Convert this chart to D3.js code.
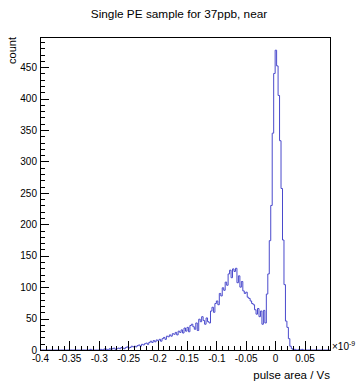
<!DOCTYPE html>
<html>
<head>
<meta charset="utf-8">
<script src="https://cdn.jsdelivr.net/npm/d3@7"></script>
<style>
  html, body { margin: 0; padding: 0; background: #fff; }
  svg { display: block; font-family: "Liberation Sans", Arial, sans-serif; }
  .axis path { display: none; }
  .axis line { stroke: #000; shape-rendering: crispEdges; }
  .axis text { font-size: 10px; fill: #000; }
</style>
</head>
<body>
<svg id="chart" width="362" height="392"></svg>
<script>
// histogram binning (units of 1e-9 Vs)
const xMin = -0.4;
const binWidth = 0.0025;

// counts per bin
const counts = [
  0,0,0,0,0,0,0,0,0,0, 0,0,0,0,0,0,0,0,0,0, 0,0,0,0,0,0,0,0,0,0,
  0,0,0,0,1,0,0,0,0,0,
  0,1,0,1,2,1,0,2,
  1,2,3,1,2,3,2,4,
  3,2,4,5,3,4,6,5,
  6,5,7,8,6,9,8,10,
  11,9,12,14,12,15,13,16,
  15,17,14,18,20,17,22,21,
  24,22,26,25,28,24,30,28,
  32,27,35,30,
  36,29,39,41,
  37,33,43,31,
  49,45,53,47,
  41,51,45,43,
  62,68,60,74,
  78,72,90,86,
  99,95,108,103,
  121,127,115,129,
  125,130,107,118,
  100,109,94,90,
  92,84,82,78,
  74,72,64,57,
  66,53,62,41,
  63,43,89,
  121,174,230,345,440,
  477,
  452,405,333,257,175,104,
  46,36,18,6,2,
  0,1,0,0,1,0,1,0,0,0,0,0,0,0,0,0,0,0,0,0,0,0,0,0,0,0
];

const xMajorTicks = [-0.4, -0.35, -0.3, -0.25, -0.2, -0.15, -0.1, -0.05, 0, 0.05];
const yMajorTicks = [0, 50, 100, 150, 200, 250, 300, 350, 400, 450];

const title = "Single PE sample for 37ppb, near";
const xTitle = "pulse area / Vs";
const yTitle = "count";

const svg = d3.select('#chart');
const L = 40, R = 331, T = 37, B = 350;

const xMax = xMin + binWidth * counts.length;
const x = d3.scaleLinear().domain([xMin, xMax]).range([L, R]);
const y = d3.scaleLinear().domain([0, 498]).range([B, T]);

const xMinor = d3.range(-40, 10).filter(k => k % 5 !== 0).map(k => k / 100);
const yMinor = d3.range(0, 50).filter(k => k % 5 !== 0).map(k => k * 10);

const fmt = d => String(+(+d).toFixed(2));

// histogram outline
const pts = counts.map((c, i) => [xMin + i * binWidth, c]);
pts.push([xMax, counts[counts.length - 1]]);
svg.append('defs').append('clipPath').attr('id', 'clip')
  .append('rect').attr('x', L).attr('y', T).attr('width', R - L).attr('height', B - T);
svg.append('path')
  .attr('clip-path', 'url(#clip)')
  .attr('d', d3.line().x(d => x(d[0])).y(d => y(d[1])).curve(d3.curveStepAfter)(pts))
  .attr('fill', 'none')
  .attr('stroke', '#4a4acc')
  .attr('stroke-width', 1);

// axes, ticks pointing into the frame
svg.append('g').attr('class', 'axis').attr('transform', `translate(0,${B})`)
  .call(d3.axisBottom(x).tickValues(xMinor).tickSize(-4.5).tickFormat(''));
svg.append('g').attr('class', 'axis').attr('transform', `translate(0,${B})`)
  .call(d3.axisBottom(x).tickValues(xMajorTicks).tickSize(-9).tickPadding(5).tickFormat(fmt));
svg.append('g').attr('class', 'axis').attr('transform', `translate(${L},0)`)
  .call(d3.axisLeft(y).tickValues(yMinor).tickSize(-4.5).tickFormat(''));
svg.append('g').attr('class', 'axis').attr('transform', `translate(${L},0)`)
  .call(d3.axisLeft(y).tickValues(yMajorTicks).tickSize(-9).tickPadding(3).tickFormat(fmt));

// frame
svg.append('rect')
  .attr('x', L + 0.5).attr('y', T + 0.5).attr('width', R - L - 1).attr('height', B - T)
  .attr('fill', 'none').attr('stroke', '#000').attr('shape-rendering', 'crispEdges');

// texts
svg.append('text').attr('x', 179).attr('y', 18).attr('text-anchor', 'middle')
  .attr('font-size', 11.8).text(title);
svg.append('text').attr('x', R - 1).attr('y', 379).attr('text-anchor', 'end')
  .attr('font-size', 11.5).text(xTitle);
svg.append('text').attr('transform', 'translate(15.5,37) rotate(-90)').attr('text-anchor', 'end')
  .attr('font-size', 11).text(yTitle);
const exp = svg.append('text').attr('x', R + 1).attr('y', 350).attr('font-size', 10);
exp.append('tspan').text('\u00d710');
exp.append('tspan').attr('font-size', 7).attr('dy', -4).text('-9');
</script>
</body>
</html>
